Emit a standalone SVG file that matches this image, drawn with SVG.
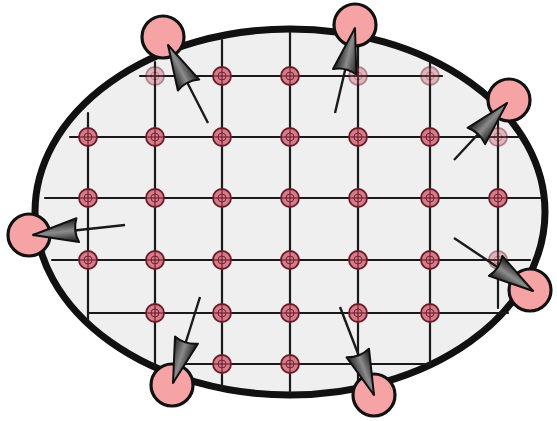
<svg xmlns="http://www.w3.org/2000/svg" width="557" height="421" viewBox="0 0 557 421">
<defs>
<style>
.grid line{stroke:#1a1a1a;stroke-width:2.2;stroke-linecap:round}
.sn{fill:#d47c88;stroke:#6a1b2a;stroke-width:1.8}
.sx{stroke:#6a1b2a;stroke-width:1.1}
.faded{opacity:0.5}
.big{fill:#f5a3a5;stroke:#111;stroke-width:3.2}
.arr{stroke:#1a1a1a;stroke-width:2.4;fill:none;marker-end:url(#ah)}
</style>
<linearGradient id="ag" x1="0" y1="0" x2="0" y2="1">
<stop offset="0" stop-color="#151515"/>
<stop offset="0.5" stop-color="#8c8c8c"/>
<stop offset="1" stop-color="#1e1e1e"/>
</linearGradient>
<marker id="ah" viewBox="-50 -15 53 30" refX="0" refY="0" markerWidth="53" markerHeight="30" markerUnits="userSpaceOnUse" orient="auto">
<path d="M0,0 L-45,-12 Q-40,0 -45,12 Z" fill="url(#ag)" stroke="#111" stroke-width="2" stroke-linejoin="round"/>
</marker>
<g id="sn">
<circle class="sn" r="9"/>
<line class="sx" x1="-9" y1="0" x2="9" y2="0"/>
<line class="sx" x1="0" y1="-9" x2="0" y2="9"/>
<circle r="4" fill="none" stroke="#6a1b2a" stroke-width="0.9"/>
</g>
</defs>
<rect width="557" height="421" fill="#fff"/>
<g id="domain">
<ellipse cx="290" cy="212" rx="255" ry="183" fill="#efefef" stroke="#111" stroke-width="7"/>
</g>
<g id="grid" class="grid">
<line x1="88" y1="113" x2="88" y2="320"/>
<line x1="155" y1="62" x2="155" y2="366"/>
<line x1="222" y1="40" x2="222" y2="388"/>
<line x1="290" y1="32" x2="290" y2="393"/>
<line x1="358" y1="35" x2="358" y2="391"/>
<line x1="430" y1="60" x2="430" y2="365"/>
<line x1="498" y1="115" x2="498" y2="308"/>
<line x1="140" y1="76" x2="442" y2="76"/>
<line x1="70" y1="137" x2="520" y2="137"/>
<line x1="45" y1="198" x2="540" y2="198"/>
<line x1="52" y1="260" x2="530" y2="260"/>
<line x1="88" y1="313" x2="508" y2="313"/>
<line x1="183" y1="364" x2="430" y2="364"/>
</g>
<g id="interior-nodes">
<use href="#sn" x="155" y="76" class="faded"/>
<use href="#sn" x="222" y="76"/>
<use href="#sn" x="290" y="76"/>
<use href="#sn" x="358" y="76" class="faded"/>
<use href="#sn" x="430" y="76" class="faded"/>
<use href="#sn" x="88" y="137"/>
<use href="#sn" x="155" y="137"/>
<use href="#sn" x="222" y="137"/>
<use href="#sn" x="290" y="137"/>
<use href="#sn" x="358" y="137"/>
<use href="#sn" x="430" y="137"/>
<use href="#sn" x="498" y="137" class="faded"/>
<use href="#sn" x="88" y="198"/>
<use href="#sn" x="155" y="198"/>
<use href="#sn" x="222" y="198"/>
<use href="#sn" x="290" y="198"/>
<use href="#sn" x="358" y="198"/>
<use href="#sn" x="430" y="198"/>
<use href="#sn" x="498" y="198"/>
<use href="#sn" x="88" y="260"/>
<use href="#sn" x="155" y="260"/>
<use href="#sn" x="222" y="260"/>
<use href="#sn" x="290" y="260"/>
<use href="#sn" x="358" y="260"/>
<use href="#sn" x="430" y="260"/>
<use href="#sn" x="498" y="260" class="faded"/>
<use href="#sn" x="155" y="313"/>
<use href="#sn" x="222" y="313"/>
<use href="#sn" x="290" y="313"/>
<use href="#sn" x="358" y="313"/>
<use href="#sn" x="430" y="313"/>
<use href="#sn" x="222" y="364"/>
<use href="#sn" x="290" y="364"/>
</g>
<g id="boundary-nodes">
<circle id="b1" class="big" cx="163" cy="37" r="21"/>
<circle id="b2" class="big" cx="355" cy="25" r="21"/>
<circle id="b3" class="big" cx="509" cy="100" r="21"/>
<circle id="b4" class="big" cx="29" cy="235" r="21"/>
<circle id="b5" class="big" cx="172" cy="385" r="21"/>
<circle id="b6" class="big" cx="374" cy="395" r="21"/>
<circle id="b7" class="big" cx="530" cy="290" r="21"/>
</g>
<g id="connectors">
<line class="arr" x1="208" y1="123" x2="168" y2="45"/>
<line class="arr" x1="335" y1="113" x2="355" y2="28"/>
<line class="arr" x1="454" y1="160" x2="507" y2="103"/>
<line class="arr" x1="125" y1="225" x2="33" y2="235"/>
<line class="arr" x1="200" y1="297" x2="173" y2="383"/>
<line class="arr" x1="340" y1="307" x2="374" y2="395"/>
<line class="arr" x1="454" y1="238" x2="533" y2="291"/>
</g>
</svg>
